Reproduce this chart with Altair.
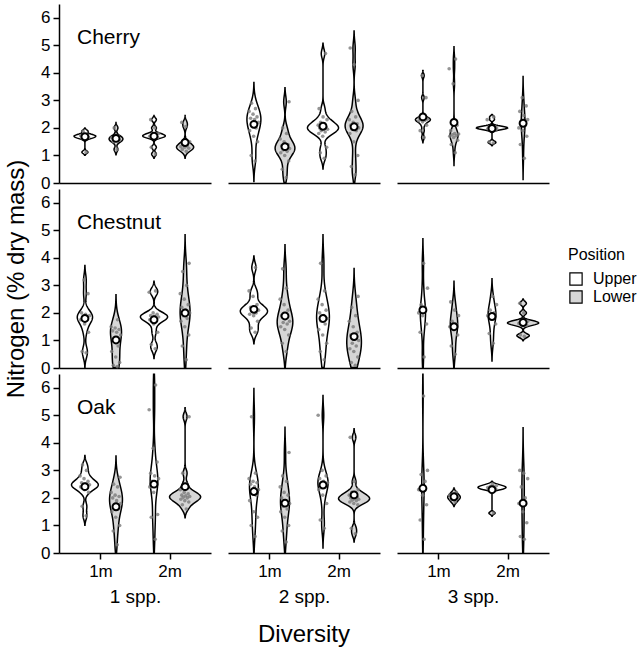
import altair as alt
import pandas as pd

species = ["Cherry", "Chestnut", "Oak"]
diversity = ["1 spp.", "2 spp.", "3 spp."]
heights = ["1m", "2m"]
positions = ["Upper", "Lower"]
y_ticks = [0, 1, 2, 3, 4, 5, 6]
y_title = "Nitrogen (% dry mass)"
x_title = "Diversity"

cherry_1_1m_upper = [1.12, 1.62, 1.66, 1.7, 1.72, 1.75, 1.88]
cherry_1_1m_lower = [1.22, 1.5, 1.55, 1.6, 1.65, 1.7, 2.0]
cherry_1_2m_upper = [1.05, 1.3, 1.65, 1.68, 1.7, 1.72, 1.75, 1.8, 2.0, 2.3]
cherry_1_2m_lower = [1.15, 1.22, 1.26, 1.3, 1.32, 1.35, 1.4, 1.5, 2.05, 2.2]
cherry_2_1m_upper = [0.8, 1.0, 1.5, 1.7, 1.9, 2.0, 2.1, 2.2, 2.3, 2.35, 2.4, 2.5, 2.6, 2.7, 2.9]
cherry_2_1m_lower = [0.2, 0.5, 0.8, 1.0, 1.1, 1.15, 1.2, 1.25, 1.3, 1.35, 1.4, 1.5, 1.6, 1.8, 2.0, 2.95]
cherry_2_2m_upper = [0.9, 1.1, 1.3, 1.7, 1.8, 1.85, 1.9, 1.95, 1.98, 2.0, 2.02, 2.05, 2.1, 2.15, 2.2, 2.3, 2.4, 2.7, 4.7]
cherry_2_2m_lower = [0.3, 0.6, 1.0, 1.5, 1.8, 1.9, 1.95, 2.0, 2.05, 2.1, 2.15, 2.2, 2.3, 2.4, 2.6, 3.0, 4.3, 4.9]
cherry_3_1m_upper = [1.65, 1.9, 2.1, 2.22, 2.26, 2.28, 2.3, 2.32, 2.34, 2.38, 3.1, 3.9]
cherry_3_1m_lower = [1.1, 1.4, 1.55, 1.65, 1.7, 1.72, 1.75, 1.78, 1.8, 1.9, 2.1, 3.6, 4.15, 4.5]
cherry_3_2m_upper = [1.45, 1.5, 1.92, 1.95, 1.97, 1.98, 2.0, 2.0, 2.02, 2.03, 2.05, 2.08, 2.3, 2.4]
cherry_3_2m_lower = [0.9, 1.4, 1.7, 1.9, 2.0, 2.1, 2.2, 2.3, 2.45, 2.6, 2.8, 3.1]

chestnut_1_1m_upper = [0.55, 0.6, 1.3, 1.6, 1.75, 1.8, 1.85, 1.9, 1.95, 2.0, 2.7, 3.2]
chestnut_1_1m_lower = [0.05, 0.1, 0.2, 0.4, 0.6, 0.8, 1.0, 1.2, 1.3, 1.35, 1.4, 1.45, 1.5, 1.75]
chestnut_1_2m_upper = [0.7, 0.85, 1.3, 1.6, 1.75, 1.8, 1.82, 1.85, 1.88, 1.9, 1.95, 2.0, 2.75, 2.8]
chestnut_1_2m_lower = [0.3, 0.8, 1.2, 1.5, 1.7, 1.8, 1.9, 2.0, 2.1, 2.2, 2.3, 2.5, 2.7, 3.0, 3.5, 3.8]
chestnut_2_1m_upper = [1.3, 1.45, 1.7, 1.9, 1.95, 2.0, 2.05, 2.1, 2.15, 2.2, 2.3, 2.6, 2.8, 3.65]
chestnut_2_1m_lower = [0.6, 0.9, 1.2, 1.4, 1.5, 1.6, 1.65, 1.7, 1.8, 1.9, 2.1, 2.3, 2.5, 2.9, 3.6]
chestnut_2_2m_upper = [0.3, 0.6, 0.9, 1.2, 1.4, 1.6, 1.7, 1.8, 1.9, 2.0, 2.1, 2.3, 2.5, 2.8, 3.8]
chestnut_2_2m_lower = [0.1, 0.2, 0.4, 0.6, 0.7, 0.8, 0.9, 1.0, 1.1, 1.2, 1.3, 1.5, 1.7, 1.9, 2.2, 2.6]
chestnut_3_1m_upper = [0.4, 1.3, 1.6, 1.9, 2.0, 2.2, 2.3, 2.9, 3.8]
chestnut_3_1m_lower = [0.5, 0.8, 1.2, 1.4, 1.5, 1.6, 1.7, 1.9, 2.1, 2.4]
chestnut_3_2m_upper = [0.9, 1.25, 1.6, 1.8, 1.9, 2.0, 2.1, 2.3, 2.6]
chestnut_3_2m_lower = [1.15, 1.2, 1.55, 1.6, 1.62, 1.65, 1.68, 1.7, 2.0, 2.35]

oak_1_1m_upper = [1.35, 1.7, 2.2, 2.3, 2.4, 2.42, 2.45, 2.48, 2.5, 2.55, 2.6, 2.7, 2.8, 3.0, 3.2]
oak_1_1m_lower = [0.3, 0.8, 1.0, 1.3, 1.5, 1.6, 1.7, 1.8, 1.9, 2.0, 2.05, 2.1, 2.2, 2.4, 2.5, 2.75]
oak_1_2m_upper = [0.5, 1.3, 1.4, 2.2, 2.4, 2.5, 2.6, 2.7, 2.8, 2.9, 3.3, 3.8, 5.2, 6.1]
oak_1_2m_lower = [1.6, 1.75, 1.85, 1.9, 1.95, 2.0, 2.02, 2.05, 2.08, 2.1, 2.15, 2.2, 2.3, 2.5, 2.9, 4.95]
oak_2_1m_upper = [0.6, 1.0, 1.3, 1.5, 1.9, 2.1, 2.2, 2.3, 2.4, 2.5, 2.55, 2.6, 2.7, 2.9, 4.95]
oak_2_1m_lower = [0.4, 0.8, 1.0, 1.3, 1.5, 1.6, 1.7, 1.8, 1.9, 2.0, 2.1, 2.2, 2.4, 2.6, 2.8, 3.65]
oak_2_2m_upper = [0.9, 1.2, 1.8, 2.1, 2.3, 2.4, 2.5, 2.55, 2.6, 2.7, 2.8, 3.0, 5.0]
oak_2_2m_lower = [0.7, 0.9, 1.75, 1.8, 1.85, 1.9, 1.92, 1.95, 1.98, 2.0, 2.02, 2.05, 2.1, 2.15, 2.2, 2.3, 2.6, 4.2]
oak_3_1m_upper = [0.5, 1.2, 1.75, 2.1, 2.3, 2.6, 2.85, 3.0, 5.7]
oak_3_1m_lower = [1.85, 1.95, 2.0, 2.05, 2.1, 2.2]
oak_3_2m_upper = [1.45, 2.3, 2.33, 2.35, 2.38, 2.4, 2.42, 2.45, 2.5]
oak_3_2m_lower = [0.5, 0.6, 1.1, 1.5, 1.8, 2.0, 2.4, 2.7, 2.9, 3.0]

# ---- Group centre markers (white circles) ----
# order per panel: 1m Upper, 1m Lower, 2m Upper, 2m Lower
centre_cherry = [[1.68, 1.62, 1.70, 1.47], [2.13, 1.32, 2.06, 2.04], [2.40, 2.20, 1.98, 2.17]]
centre_chestnut = [[1.80, 1.02, 1.75, 2.00], [2.13, 1.89, 1.80, 1.14], [2.11, 1.50, 1.87, 1.65]]
centre_oak = [[2.41, 1.68, 2.50, 2.41], [2.23, 1.81, 2.47, 2.11], [2.35, 2.04, 2.30, 1.81]]

groups = {
    "Cherry": [
        [cherry_1_1m_upper, cherry_1_1m_lower, cherry_1_2m_upper, cherry_1_2m_lower],
        [cherry_2_1m_upper, cherry_2_1m_lower, cherry_2_2m_upper, cherry_2_2m_lower],
        [cherry_3_1m_upper, cherry_3_1m_lower, cherry_3_2m_upper, cherry_3_2m_lower],
    ],
    "Chestnut": [
        [chestnut_1_1m_upper, chestnut_1_1m_lower, chestnut_1_2m_upper, chestnut_1_2m_lower],
        [chestnut_2_1m_upper, chestnut_2_1m_lower, chestnut_2_2m_upper, chestnut_2_2m_lower],
        [chestnut_3_1m_upper, chestnut_3_1m_lower, chestnut_3_2m_upper, chestnut_3_2m_lower],
    ],
    "Oak": [
        [oak_1_1m_upper, oak_1_1m_lower, oak_1_2m_upper, oak_1_2m_lower],
        [oak_2_1m_upper, oak_2_1m_lower, oak_2_2m_upper, oak_2_2m_lower],
        [oak_3_1m_upper, oak_3_1m_lower, oak_3_2m_upper, oak_3_2m_lower],
    ],
}
centres = {"Cherry": centre_cherry, "Chestnut": centre_chestnut, "Oak": centre_oak}

combos = [(h, p) for h in heights for p in positions]
Y_MIN, Y_MAX = 0, 6.5
PANEL_W, PANEL_H = 152, 179
COL_GAP, ROW_GAP = 17, 6

grp = ["height", "position"]
centre_expr = (f"indexof({heights!r}, datum.height) + 1 + "
               f"(datum.position == '{positions[0]}' ? -0.225 : 0.225)")
yscale = alt.Scale(domain=[Y_MIN, Y_MAX], nice=False, zero=False)
xscale = alt.Scale(domain=[0.4, 2.6], nice=False, zero=False)
label_expr = f"{heights!r}[datum.value - 1]"

fill = alt.Fill("position:N", scale=alt.Scale(domain=positions, range=["#ffffff", "#d6d6d6"]),
                legend=alt.Legend(title="Position", orient="none", legendX=509, legendY=243,
                                  symbolType="square", symbolSize=150,
                                  symbolStrokeColor="black", symbolStrokeWidth=1.2,
                                  labelFontSize=16, titleFontSize=16, titleFontWeight="normal",
                                  rowPadding=0, titlePadding=8, labelOffset=9))


def panel(si, di):
    sp = species[si]
    rows = []
    obs_rows = []
    for gi, (h, p) in enumerate(combos):
        for v in groups[sp][di][gi]:
            obs_rows.append(dict(height=h, position=p, value=v))
        rows.append(dict(height=h, position=p, value=centres[sp][di][gi]))
    obs = pd.DataFrame(obs_rows)
    ctr = pd.DataFrame(rows)

    first_col = di == 0
    bottom_row = si == len(species) - 1

    if first_col:
        y_axis = alt.Axis(values=y_ticks, grid=False, tickSize=6, minExtent=0,
                          labelFontSize=17, labelPadding=3,
                          title=(y_title if si == 1 else None),
                          titleFontSize=24, titleFontWeight="normal", titlePadding=12)
    else:
        y_axis = None
    if bottom_row:
        x_axis = alt.Axis(values=[1, 2], labelExpr=label_expr, grid=False,
                          tickSize=6, labelFontSize=17, labelPadding=4,
                          title=diversity[di], titleFontSize=19, titleFontWeight="normal",
                          titlePadding=8)
    else:
        x_axis = alt.Axis(labels=False, ticks=False, grid=False, title=None, domain=True)

    violin = alt.Chart(obs).transform_joinaggregate(
        n="count()", sd="stdev(value)", q1="q1(value)", q3="q3(value)",
        mn="min(value)", mx="max(value)", groupby=grp
    ).transform_calculate(
        lo="min(datum.sd, (datum.q3 - datum.q1) / 1.34)"
    ).transform_calculate(
        bw="0.9 * (datum.lo > 0 ? datum.lo : datum.sd) * pow(datum.n, -0.2)"
    ).transform_calculate(
        lower=f"max(datum.mn - 3 * datum.bw, {Y_MIN})",
        upper=f"min(datum.mx + 3 * datum.bw, {Y_MAX})",
    ).transform_density(
        "value", as_=["value", "density"], groupby=grp + ["n", "lower", "upper"],
        extent=[-2, 9], steps=600
    ).transform_joinaggregate(
        maxd="max(density)", maxn="max(n)"
    ).transform_filter(
        "datum.value >= datum.lower && datum.value <= datum.upper"
    ).transform_calculate(
        hw="datum.density / datum.maxd * datum.n / datum.maxn * 0.225",
        centre=centre_expr,
    ).transform_calculate(
        xl="datum.centre - datum.hw", xr="datum.centre + datum.hw"
    ).mark_area(
        orient="horizontal", stroke="black", strokeWidth=1.5, interpolate="linear"
    ).encode(
        y=alt.Y("value:Q", scale=yscale, axis=y_axis),
        x=alt.X("xl:Q", scale=xscale, axis=x_axis),
        x2="xr:Q",
        fill=fill,
        detail="height:N",
    )

    points = alt.Chart(obs).transform_window(
        rank="row_number()", groupby=grp
    ).transform_calculate(
        xj=centre_expr + " + ((datum.rank * 0.618034) % 1 - 0.5) * 0.15"
    ).mark_circle(size=13, color="#7a7a7a", opacity=0.8).encode(
        x=alt.X("xj:Q", scale=xscale, axis=x_axis),
        y=alt.Y("value:Q", scale=yscale, axis=y_axis),
    )

    markers = alt.Chart(ctr).transform_calculate(
        xc=centre_expr
    ).mark_point(filled=True, fill="white", stroke="black", strokeWidth=2, size=48,
                 opacity=1).encode(
        x=alt.X("xc:Q", scale=xscale, axis=x_axis),
        y=alt.Y("value:Q", scale=yscale, axis=y_axis),
    )

    layers = [violin, points, markers]
    if first_col:
        lab = alt.Chart(pd.DataFrame({"label": [sp]})).mark_text(
            align="left", baseline="alphabetic", fontSize=21, color="black"
        ).encode(
            x=alt.X(datum=0.66, scale=xscale, axis=x_axis),
            y=alt.Y(datum=5.05, scale=yscale, axis=y_axis),
            text="label:N",
        )
        layers.append(lab)
    return alt.layer(*layers).properties(width=PANEL_W, height=PANEL_H)


cells = [panel(si, di) for si in range(len(species)) for di in range(len(diversity))]
grid_w = len(diversity) * PANEL_W + (len(diversity) - 1) * COL_GAP

chart = alt.concat(*cells, columns=len(diversity), spacing={"row": ROW_GAP, "column": COL_GAP},
                   bounds="flush").properties(
    title=alt.TitleParams(x_title, orient="bottom", anchor="middle", frame="group",
                          fontSize=24, fontWeight="normal", offset=17, dx=grid_w / 2,
                          color="black")
).configure(
    font="Liberation Sans", padding={"left": 4, "top": 4, "right": 0, "bottom": 0}
).configure_view(
    stroke=None
).configure_axis(
    domainColor="black", domainWidth=1.5, tickColor="black", tickWidth=1.5,
    labelColor="black", titleColor="black", labelFont="Liberation Sans"
).configure_legend(
    labelColor="black", titleColor="black"
)

chart.save("out.html", embed_options={"renderer": "svg", "actions": False})
